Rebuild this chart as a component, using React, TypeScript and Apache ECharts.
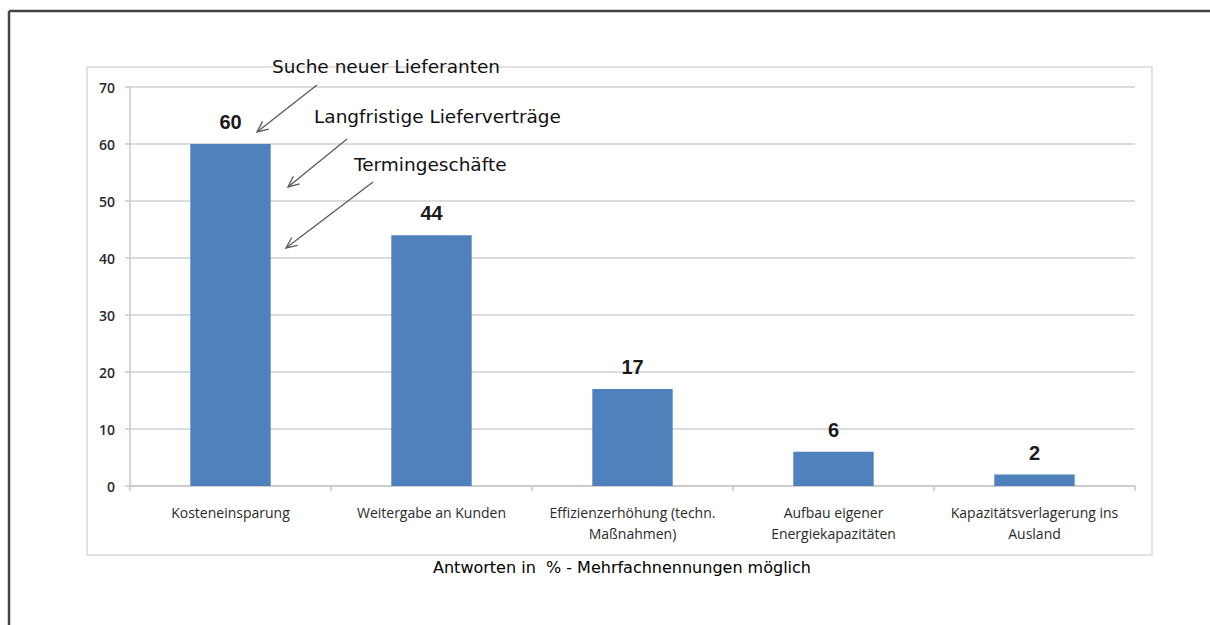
import React, { useEffect, useRef } from "react";
import * as echarts from "echarts";

const categories = [
  "Kosteneinsparung",
  "Weitergabe an Kunden",
  "Effizienzerhöhung (techn.\nMaßnahmen)",
  "Aufbau eigener\nEnergiekapazitäten",
  "Kapazitätsverlagerung ins\nAusland",
];
const values = [60, 44, 17, 6, 2];
const yMin = 0;
const yMax = 70;
const yInterval = 10;
const footerText = "Antworten in  % - Mehrfachnennungen möglich";
const annotations = [
  { text: "Suche neuer Lieferanten", tx: 272, ty: 66, from: [317, 85], to: [257, 132] },
  { text: "Langfristige Lieferverträge", tx: 314, ty: 116, from: [347, 139], to: [288, 187] },
  { text: "Termingeschäfte", tx: 354, ty: 164, from: [373, 182], to: [286, 248] },
];

function arrow(from: number[], to: number[]) {
  const dx = to[0] - from[0];
  const dy = to[1] - from[1];
  const a = Math.atan2(dy, dx);
  const L = 12;
  const spread = 0.42;
  const p1 = [to[0] - L * Math.cos(a - spread), to[1] - L * Math.sin(a - spread)];
  const p2 = [to[0] - L * Math.cos(a + spread), to[1] - L * Math.sin(a + spread)];
  const style = { stroke: "#5a5a5a", lineWidth: 1.3, fill: null };
  return [
    { type: "line", shape: { x1: from[0], y1: from[1], x2: to[0], y2: to[1] }, style },
    { type: "polyline", shape: { points: [p1, to, p2] }, style },
  ];
}

export default function App() {
  const ref = useRef<HTMLDivElement>(null);
  useEffect(() => {
    if (!ref.current) return;
    const chart = echarts.init(ref.current, null, { renderer: "svg" });
    const graphics: any[] = [
      {
        type: "line",
        shape: { x1: 9, y1: 11, x2: 9, y2: 625 },
        style: { stroke: "#444", lineWidth: 2.5 },
        z: 10,
      },
      {
        type: "line",
        shape: { x1: 9, y1: 11, x2: 1210, y2: 11 },
        style: { stroke: "#444", lineWidth: 2.5 },
        z: 10,
      },
      {
        type: "rect",
        shape: { x: 87, y: 67, width: 1065, height: 488 },
        style: { stroke: "#d9d9d9", lineWidth: 1.5, fill: null },
        z: -1,
      },
      {
        type: "text",
        x: 622,
        y: 567,
        style: {
          text: footerText,
          font: "16px 'DejaVu Sans'",
          fill: "#000",
          align: "center",
          verticalAlign: "middle",
        },
      },
    ];
    annotations.forEach((an) => {
      graphics.push({
        type: "text",
        x: an.tx,
        y: an.ty,
        style: {
          text: an.text,
          font: "18.5px 'DejaVu Sans'",
          fill: "#111",
          align: "left",
          verticalAlign: "middle",
        },
        z: 20,
      });
      arrow(an.from, an.to).forEach((g) => graphics.push({ ...g, z: 20 }));
    });
    chart.setOption({
      animation: false,
      grid: { left: 130, right: 75, top: 87, bottom: 139, containLabel: false },
      xAxis: {
        type: "category",
        data: categories,
        axisLine: { lineStyle: { color: "#c8c8c8", width: 1.5 } },
        axisTick: { show: true, length: 5, lineStyle: { color: "#c8c8c8", width: 1.5 } },
        axisLabel: {
          interval: 0,
          color: "#2a2a2a",
          fontFamily: "'Open Sans'",
          fontSize: 14,
          lineHeight: 21,
          margin: 16,
        },
      },
      yAxis: {
        type: "value",
        min: yMin,
        max: yMax,
        interval: yInterval,
        axisLine: { show: true, lineStyle: { color: "#c8c8c8", width: 1.5 } },
        axisTick: { show: true, length: 5, lineStyle: { color: "#c8c8c8", width: 1.5 } },
        splitLine: { lineStyle: { color: "#d0d0d0", width: 1.5 } },
        axisLabel: {
          color: "#2a2a2a",
          fontFamily: "'Open Sans'",
          fontSize: 14,
          fontWeight: 600,
          margin: 15,
        },
      },
      series: [
        {
          type: "bar",
          data: values,
          barCategoryGap: "60%",
          itemStyle: { color: "#4f81bd" },
          label: {
            show: true,
            position: "top",
            distance: 12,
            color: "#1a1a1a",
            fontFamily: "'Liberation Sans'",
            fontWeight: "bold",
            fontSize: 20,
          },
        },
      ],
      graphic: graphics,
    });
    return () => chart.dispose();
  }, []);
  return (
    <div
      ref={ref}
      style={{ position: "fixed", left: 0, top: 0, width: 1210, height: 625, background: "#fff" }}
    />
  );
}
